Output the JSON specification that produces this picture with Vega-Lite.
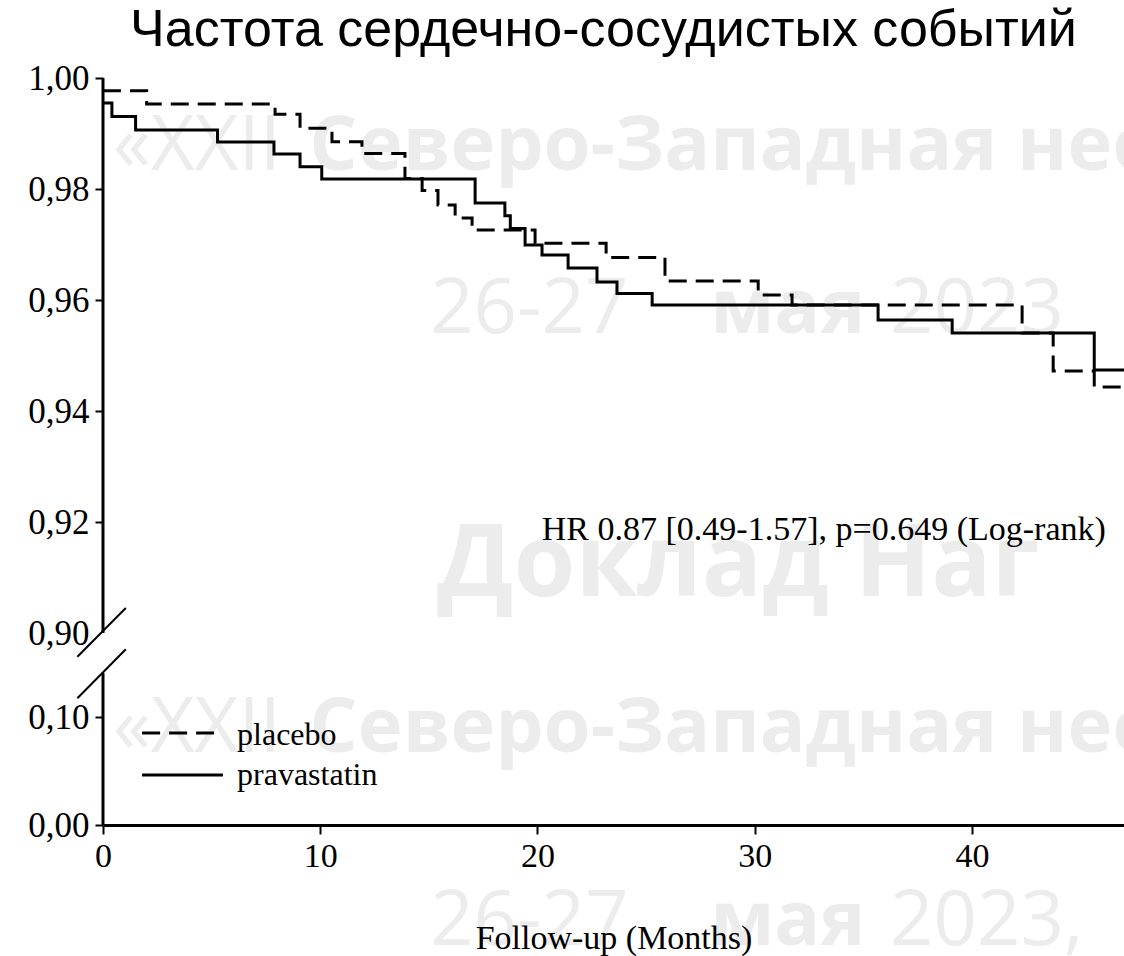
{
  "$schema": "https://vega.github.io/schema/vega-lite/v6.json",
  "width": 1021,
  "height": 747,
  "autosize": {"type": "none"},
  "padding": {"left": 103, "top": 78, "right": 0, "bottom": 131},
  "background": "white",
  "title": {
    "text": "Частота сердечно-сосудистых событий",
    "font": "Liberation Sans",
    "fontSize": 52,
    "fontWeight": "normal",
    "color": "black",
    "anchor": "middle",
    "offset": 4,
    "dx": -10
  },
  "config": {"view": {"stroke": null}},
  "datasets": {
    "km": [
      {"group": "placebo", "month": 0, "surv": 0.99771},
      {"group": "placebo", "month": 2.01, "surv": 0.99532},
      {"group": "placebo", "month": 7.92, "surv": 0.99346},
      {"group": "placebo", "month": 9.07, "surv": 0.99094},
      {"group": "placebo", "month": 10.54, "surv": 0.98852},
      {"group": "placebo", "month": 11.92, "surv": 0.9864},
      {"group": "placebo", "month": 13.9, "surv": 0.98189},
      {"group": "placebo", "month": 14.69, "surv": 0.97973},
      {"group": "placebo", "month": 15.42, "surv": 0.97712},
      {"group": "placebo", "month": 16.21, "surv": 0.97477},
      {"group": "placebo", "month": 16.99, "surv": 0.97261},
      {"group": "placebo", "month": 19.89, "surv": 0.97022},
      {"group": "placebo", "month": 23.16, "surv": 0.96766},
      {"group": "placebo", "month": 25.87, "surv": 0.96342},
      {"group": "placebo", "month": 30.16, "surv": 0.9609},
      {"group": "placebo", "month": 31.72, "surv": 0.9591},
      {"group": "placebo", "month": 42.31, "surv": 0.95405},
      {"group": "placebo", "month": 43.74, "surv": 0.94721},
      {"group": "placebo", "month": 45.63, "surv": 0.94432},
      {"group": "placebo", "month": 47, "surv": 0.94432},
      {"group": "pravastatin", "month": 0, "surv": 0.9955},
      {"group": "pravastatin", "month": 0.41, "surv": 0.99306},
      {"group": "pravastatin", "month": 1.5, "surv": 0.99063},
      {"group": "pravastatin", "month": 5.27, "surv": 0.98847},
      {"group": "pravastatin", "month": 7.87, "surv": 0.98631},
      {"group": "pravastatin", "month": 9.07, "surv": 0.98402},
      {"group": "pravastatin", "month": 10.07, "surv": 0.9818},
      {"group": "pravastatin", "month": 17.13, "surv": 0.97748},
      {"group": "pravastatin", "month": 18.5, "surv": 0.9752},
      {"group": "pravastatin", "month": 18.75, "surv": 0.97288},
      {"group": "pravastatin", "month": 19.43, "surv": 0.96991},
      {"group": "pravastatin", "month": 20.21, "surv": 0.96811},
      {"group": "pravastatin", "month": 21.41, "surv": 0.96577},
      {"group": "pravastatin", "month": 22.74, "surv": 0.96324},
      {"group": "pravastatin", "month": 23.66, "surv": 0.96117},
      {"group": "pravastatin", "month": 25.28, "surv": 0.9591},
      {"group": "pravastatin", "month": 35.68, "surv": 0.9564},
      {"group": "pravastatin", "month": 39.09, "surv": 0.95405},
      {"group": "pravastatin", "month": 45.63, "surv": 0.94739},
      {"group": "pravastatin", "month": 47, "surv": 0.94739}
    ],
    "axisline": [
      {"month": 0, "surv": 0, "surv2": 0.519},
      {"month": 0, "surv": 0.9, "surv2": 1.0}
    ],
    "breaks": [
      {"month": -1.18, "month2": 1.05, "surv": 0.674, "surv2": 0.9045},
      {"month": -1.18, "month2": 1.05, "surv": 0.278, "surv2": 0.745}
    ],
    "legendlines": [
      {"group": "placebo", "month": 1.8, "month2": 5.52, "surv": 0.0852},
      {"group": "pravastatin", "month": 1.8, "month2": 5.52, "surv": 0.0463}
    ],
    "legendtext": [
      {"label": "placebo", "month": 6.17, "surv": 0.0741},
      {"label": "pravastatin", "month": 6.17, "surv": 0.037}
    ],
    "note": [
      {"label": "HR 0.87 [0.49-1.57], p=0.649 (Log-rank)", "month": 20.2, "surv": 0.91676}
    ],
    "wm_light": [
      {"label": "«XXII", "month": 0.46, "surv": 0.98342},
      {"label": "26-27", "month": 15.06, "surv": 0.95405},
      {"label": "2023", "month": 36.23, "surv": 0.95405},
      {"label": "«XXII", "month": 0.46, "surv": 0.0676},
      {"label": "26-27", "month": 15.06, "surv": -0.111},
      {"label": "2023,", "month": 36.23, "surv": -0.111}
    ],
    "wm_bold": [
      {"label": "Северо-Западная нео", "month": 9.5, "surv": 0.98342},
      {"label": "мая", "month": 27.95, "surv": 0.95405},
      {"label": "Северо-Западная нео", "month": 9.5, "surv": 0.0676},
      {"label": "мая", "month": 27.95, "surv": -0.111}
    ],
    "wm_big": [
      {"label": "Доклад Наг", "month": 15.38, "surv": 0.90667}
    ]
  },
  "encoding": {
    "x": {
      "field": "month",
      "type": "quantitative",
      "scale": {"domain": [0, 47], "nice": false, "zero": false},
      "axis": {
        "zindex": 1,
        "values": [0, 10, 20, 30, 40],
        "title": "Follow-up (Months)",
        "titleFont": "Liberation Serif",
        "titleFontSize": 34,
        "titleFontWeight": "normal",
        "titleColor": "black",
        "titlePadding": 48,
        "labelFont": "Liberation Serif",
        "labelFontSize": 34,
        "labelColor": "black",
        "labelPadding": 5,
        "labelFlush": false,
        "tickSize": 9,
        "tickWidth": 2,
        "tickColor": "black",
        "domainColor": "black",
        "domainWidth": 3,
        "grid": false
      }
    },
    "y": {
      "field": "surv",
      "type": "quantitative",
      "scale": {"domain": [0, 0.1, 0.9, 1.0], "range": [747, 639, 555, 0], "nice": false, "zero": false},
      "axis": {
        "zindex": 1,
        "values": [0, 0.1, 0.9, 0.92, 0.94, 0.96, 0.98, 1.0],
        "labelExpr": "replace(format(datum.value, '.2f'), '.', ',')",
        "title": null,
        "domain": false,
        "grid": false,
        "tickSize": 8,
        "tickWidth": 2,
        "tickColor": {"condition": {"test": "abs(datum.value - 0.9) < 0.001", "value": "transparent"}, "value": "black"},
        "labelFont": "Liberation Serif",
        "labelFontSize": 35,
        "labelColor": "black",
        "labelPadding": 6,
        "labelOverlap": false
      }
    }
  },
  "layer": [
    {
      "data": {"name": "wm_light"},
      "mark": {"type": "text", "font": "Open Sans", "fontSize": 76, "color": "#ececec", "align": "left", "baseline": "alphabetic"},
      "encoding": {"text": {"field": "label"}}
    },
    {
      "data": {"name": "wm_bold"},
      "mark": {"type": "text", "font": "Open Sans", "fontSize": 76, "fontWeight": "bold", "color": "#ececec", "align": "left", "baseline": "alphabetic"},
      "encoding": {"text": {"field": "label"}}
    },
    {
      "data": {"name": "wm_big"},
      "mark": {"type": "text", "font": "Open Sans", "fontSize": 100, "fontWeight": "bold", "color": "#ececec", "align": "left", "baseline": "alphabetic"},
      "encoding": {"text": {"field": "label"}}
    },
    {
      "data": {"name": "axisline"},
      "mark": {"type": "rule", "color": "black", "strokeWidth": 3},
      "encoding": {"y2": {"field": "surv2"}}
    },
    {
      "data": {"name": "breaks"},
      "mark": {"type": "rule", "color": "black", "strokeWidth": 2},
      "encoding": {"x2": {"field": "month2"}, "y2": {"field": "surv2"}}
    },
    {
      "data": {"name": "km"},
      "mark": {"type": "line", "interpolate": "step-after", "color": "black", "strokeWidth": 3},
      "encoding": {
        "strokeDash": {
          "field": "group",
          "type": "nominal",
          "scale": {"domain": ["placebo", "pravastatin"], "range": [[18, 9], [1, 0]]},
          "legend": null
        }
      }
    },
    {
      "data": {"name": "legendlines"},
      "mark": {"type": "rule", "color": "black", "strokeWidth": 3},
      "encoding": {
        "x2": {"field": "month2"},
        "strokeDash": {
          "field": "group",
          "type": "nominal",
          "scale": {"domain": ["placebo", "pravastatin"], "range": [[18, 9], [1, 0]]},
          "legend": null
        }
      }
    },
    {
      "data": {"name": "legendtext"},
      "mark": {"type": "text", "font": "Liberation Serif", "fontSize": 32, "color": "black", "align": "left", "baseline": "alphabetic"},
      "encoding": {"text": {"field": "label"}}
    },
    {
      "data": {"name": "note"},
      "mark": {"type": "text", "font": "Liberation Serif", "fontSize": 34, "color": "black", "align": "left", "baseline": "alphabetic"},
      "encoding": {"text": {"field": "label"}}
    }
  ]
}
